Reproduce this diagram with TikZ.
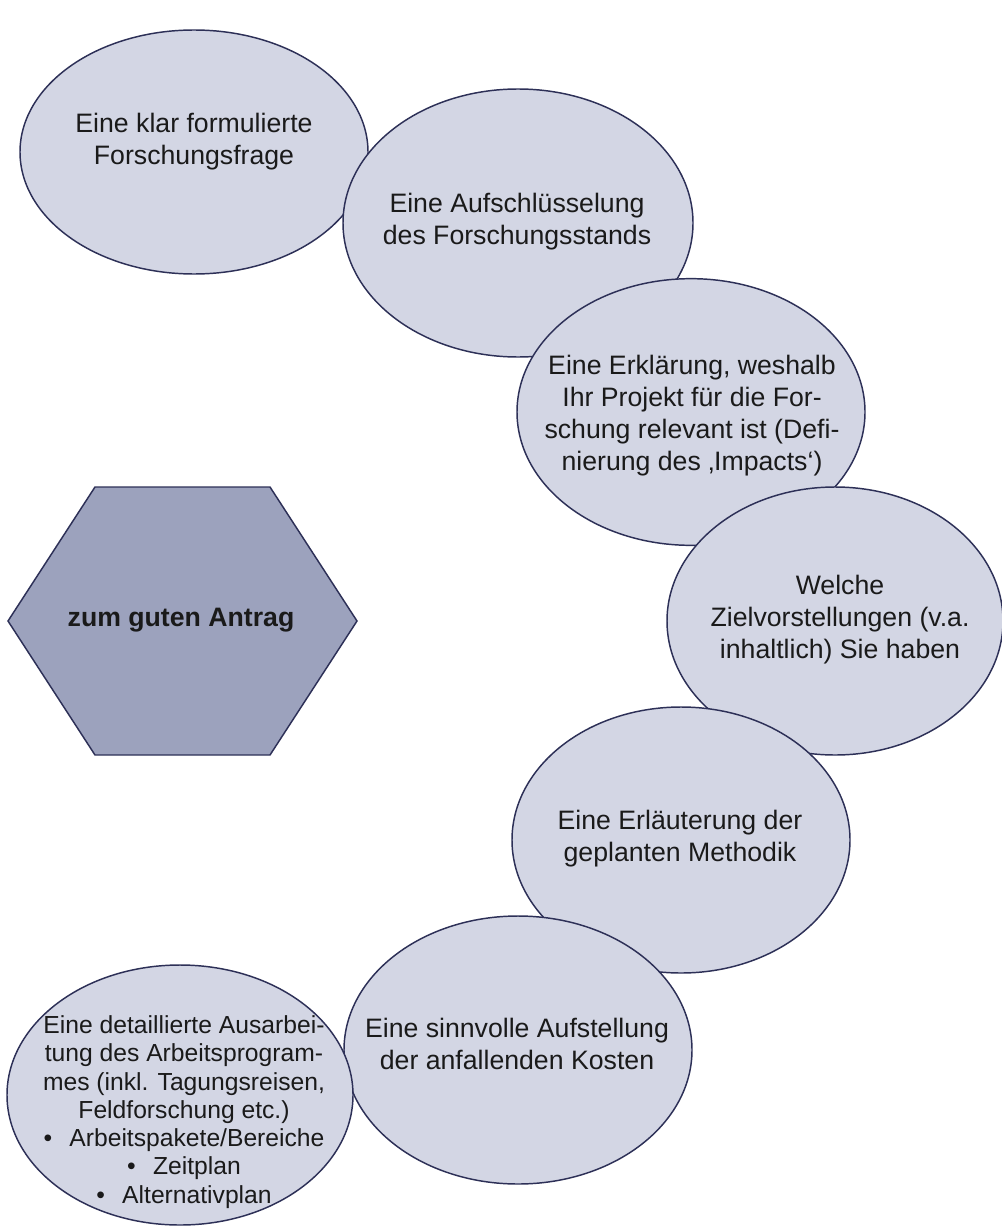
\documentclass[tikz,border=0pt]{standalone}
\usepackage{fontspec}
\setmainfont{Liberation Sans}
\usetikzlibrary{shapes.geometric}
\definecolor{bubblefill}{HTML}{D3D6E4}
\definecolor{hexfill}{HTML}{9CA2BD}
\definecolor{edgecol}{HTML}{2D3057}
\definecolor{txtcol}{HTML}{1A1A1A}
\begin{document}
\begin{tikzpicture}[x=0.75pt,y=-0.75pt,
  bubble/.style={ellipse,draw=edgecol,fill=bubblefill,line width=1.1pt,inner sep=0pt},
  bubbletext/.style={align=center,font=\fontsize{20}{24}\selectfont,text=txtcol,inner sep=0pt},
  smalltext/.style={align=center,font=\fontsize{18.5}{21.2}\selectfont,text=txtcol,inner sep=0pt},
  hexshape/.style={draw=edgecol,fill=hexfill,line width=1.1pt,line join=miter},
  goaltext/.style={font=\bfseries\fontsize{20}{24}\selectfont,text=txtcol,inner sep=0pt}]
\fill[white] (0,0) rectangle (1002,1227);
\useasboundingbox (0,0) rectangle (1002,1227);

% 1
\node[bubble,minimum width=261pt,minimum height=183pt] (e1) at (194,152) {};
\node[bubbletext] (t1) at (194,142) {Eine klar formulierte\\Forschungsfrage};
% 2
\node[bubble,minimum width=262.5pt,minimum height=201pt] (e2) at (518,223) {};
\node[bubbletext] (t2) at (517,222) {Eine Aufschlüsselung\\des Forschungsstands};
% 3
\node[bubble,minimum width=261pt,minimum height=200pt] (e3) at (691,412) {};
\node[bubbletext] (t3) at (692,416) {Eine Erklärung, weshalb\\Ihr Projekt für die For-\\schung relevant ist (Defi-\\nierung des ‚Impacts‘)};
% 4
\node[bubble,minimum width=252pt,minimum height=201pt] (e4) at (835,621) {};
\node[bubbletext] (t4) at (840,620) {Welche\\Zielvorstellungen (v.a.\\inhaltlich) Sie haben};
% 5
\node[bubble,minimum width=253.5pt,minimum height=199.5pt] (e5) at (681,840) {};
\node[bubbletext] (t5) at (680,839) {Eine Erläuterung der\\geplanten Methodik};
% 6
\node[bubble,minimum width=261pt,minimum height=201pt] (e6) at (518,1050) {};
\node[bubbletext] (t6) at (517,1044) {Eine sinnvolle Aufstellung\\der anfallenden Kosten};
% 7
\node[bubble,minimum width=259.5pt,minimum height=195pt] (e7) at (180,1095) {};
\node[smalltext] (t7) at (184,1112) {Eine detaillierte Ausarbei-\\tung des Arbeitsprogram-\\mes (inkl. Tagungsreisen,\\Feldforschung etc.)\\\textbullet\hspace{0.7em}Arbeitspakete/Bereiche\\\textbullet\hspace{0.7em}Zeitplan\\\textbullet\hspace{0.7em}Alternativplan};

% hexagon
\draw[hexshape] (8,621) -- (95,487) -- (270,487) -- (357,621) -- (270,755) -- (95,755) -- cycle;
\node[goaltext] (goal) at (181,620) {zum guten Antrag};
\end{tikzpicture}
\end{document}
